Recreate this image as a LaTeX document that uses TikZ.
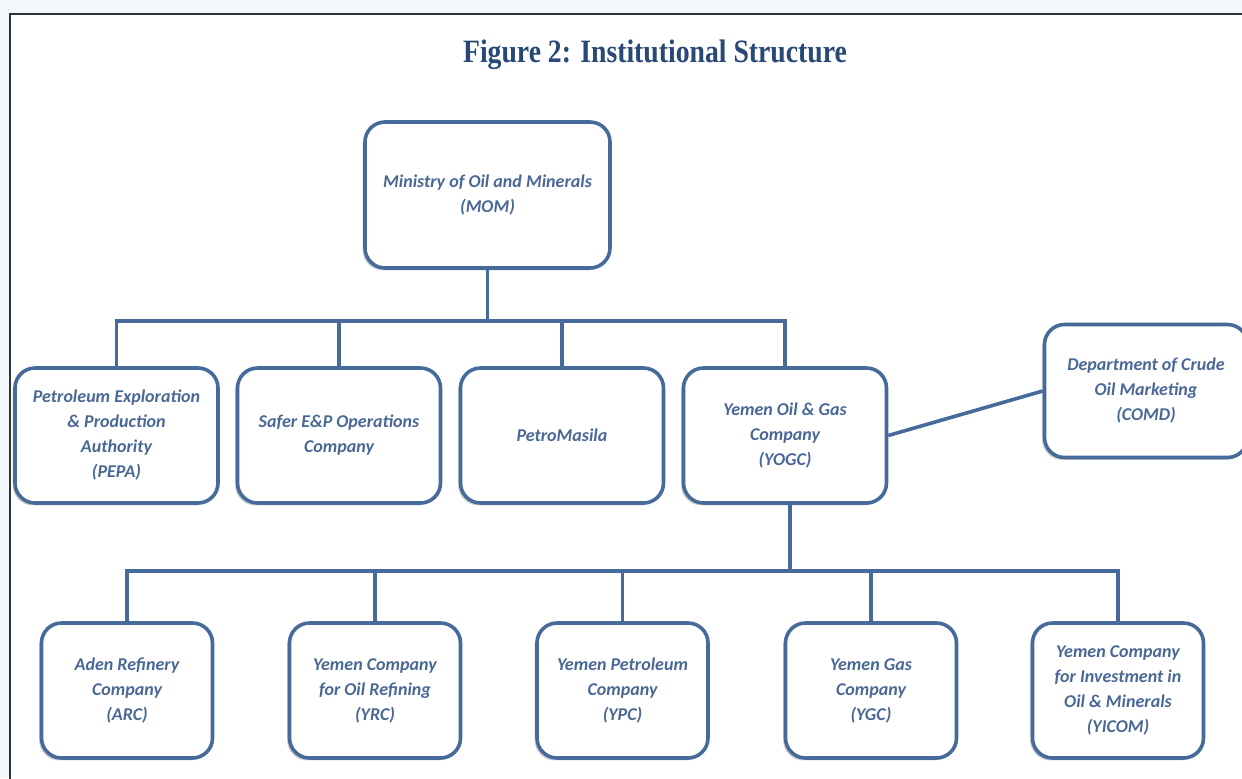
\documentclass[tikz,border=0pt]{standalone}
\usepackage{fontspec}
\usetikzlibrary{shadows}
\newfontfamily\boxfont{Carlito}
\newfontfamily\titlefont{Liberation Serif}
\definecolor{linebl}{RGB}{70,106,154}
\definecolor{textbl}{RGB}{74,104,150}
\definecolor{titlebl}{RGB}{40,72,120}
\definecolor{pagebg}{RGB}{242,247,252}
\begin{document}
\begin{tikzpicture}[x=0.5pt,y=-0.5pt,line width=1.8pt,color=linebl,
	orgbox/.style={draw=linebl,fill=white,rounded corners=10pt,line width=1.8pt,align=center,
		text=textbl,font=\boxfont\bfseries\itshape\fontsize{9}{12.5}\selectfont,
		drop shadow={shadow xshift=-1.2pt,shadow yshift=-1.2pt,opacity=0.3,fill=black!60}},
	topbox/.style={orgbox,minimum width=101.5pt,minimum height=67.5pt},
	lowbox/.style={orgbox,minimum width=85.5pt,minimum height=67.5pt}]
		\useasboundingbox (0,0) rectangle (1242,778);
		\fill[pagebg] (0,0) rectangle (1242,778);
		\draw[fill=white,draw=black!80,line width=1pt] (9.5,14) rectangle (1270,800);
		\node[anchor=base,text=titlebl] (title) at (655,62) {\titlefont\bfseries\fontsize{16.3}{19}\selectfont\scalebox{0.85}[1]{Figure 2: Institutional Structure}};
		\node[orgbox,minimum width=122.5pt,minimum height=73pt] (mom) at (487.5,195) {Ministry of Oil and Minerals\\(MOM)};
		\node[topbox] (pepa) at (116.5,435.5) {Petroleum Exploration\\\& Production\\Authority\\(PEPA)};
		\node[topbox] (safer) at (339,435.5) {Safer E\&P Operations\\Company};
		\node[topbox] (petro) at (562,435.5) {PetroMasila};
		\node[topbox] (yogc) at (785,435.5) {Yemen Oil \& Gas\\Company\\(YOGC)};
		\node[topbox,minimum height=66.5pt] (comd) at (1146,391) {Department of Crude\\Oil Marketing\\(COMD)};
		\node[lowbox] (arc) at (127,690.5) {Aden Refinery\\Company\\(ARC)};
		\node[lowbox] (yrc) at (375,690.5) {Yemen Company\\for Oil Refining\\(YRC)};
		\node[lowbox] (ypc) at (622.5,690.5) {Yemen Petroleum\\Company\\(YPC)};
		\node[lowbox] (ygc) at (871,690.5) {Yemen Gas\\Company\\(YGC)};
		\node[lowbox] (yicom) at (1118,690.5) {Yemen Company\\for Investment in\\Oil \& Minerals\\(YICOM)};
		\coordinate (busA) at (487.5,321);
		\coordinate (busB) at (790,571);
		\draw (mom.south) -- (busA);
		\draw (pepa.north) -- (pepa.north |- busA) -| (yogc.north);
		\draw (safer.north) -- (safer.north |- busA) (petro.north) -- (petro.north |- busA);
		\draw (yogc.east) -- (comd.west);
		\draw ([xshift=2.5pt]yogc.south) -- (busB);
		\draw (arc.north) -- (arc.north |- busB) -| (yicom.north);
		\draw (yrc.north) -- (yrc.north |- busB) (ypc.north) -- (ypc.north |- busB) (ygc.north) -- (ygc.north |- busB);
		\end{tikzpicture}
\end{document}
